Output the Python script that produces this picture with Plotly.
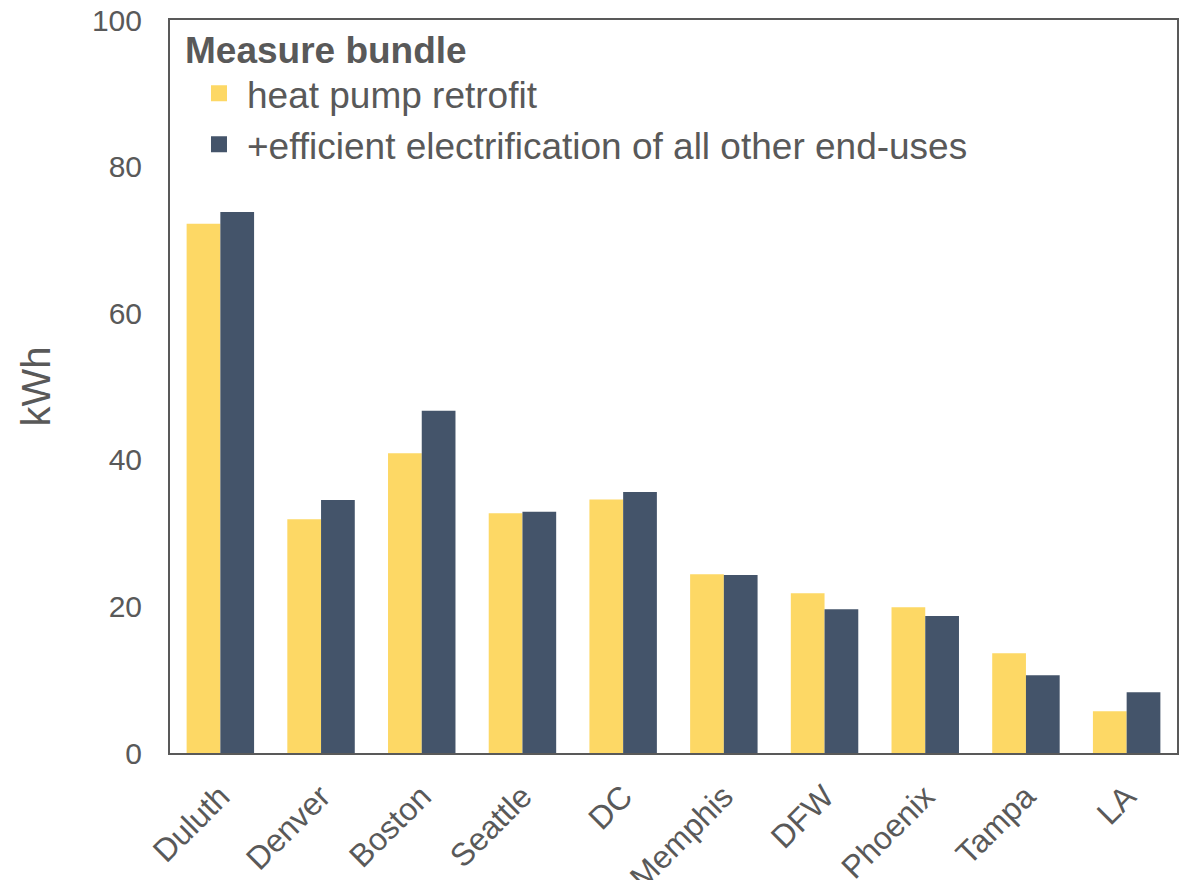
import plotly.graph_objects as go

cities = ["Duluth", "Denver", "Boston", "Seattle", "DC", "Memphis", "DFW", "Phoenix", "Tampa", "LA"]
heat_pump = [72.2, 31.9, 40.9, 32.7, 34.6, 24.4, 21.8, 19.9, 13.6, 5.7]
all_electric = [73.8, 34.5, 46.7, 32.9, 35.6, 24.3, 19.6, 18.7, 10.6, 8.3]
series_names = ["heat pump retrofit", "+efficient electrification of all other end-uses"]
y_ticks = [0, 20, 40, 60, 80, 100]
colors = ["#FDD865", "#44546A"]

FONT = "Liberation Sans, Arial, sans-serif"
GREY = "#595959"

fig = go.Figure()
for vals, name, col in zip([heat_pump, all_electric], series_names, colors):
    fig.add_trace(go.Bar(x=cities, y=vals, name=name, showlegend=False,
                         marker=dict(color=col, line=dict(width=0))))
# legend entries with larger square symbols
for name, col in zip(series_names, colors):
    fig.add_trace(go.Scatter(x=[None], y=[None], mode="markers", name=name,
                             marker=dict(symbol="square", size=18, color=col)))

fig.update_layout(
    width=1189, height=880,
    margin=dict(l=162, r=20, t=12, b=135, autoexpand=False),
    paper_bgcolor="white", plot_bgcolor="white",
    barmode="group", bargap=0.33, bargroupgap=0,
    font=dict(family=FONT, color=GREY, size=30),
    legend=dict(
        title=dict(text="<b>Measure bundle</b>", font=dict(size=37, color=GREY)),
        x=0.0129, y=1.0075, xanchor="left", yanchor="top",
        bgcolor="rgba(0,0,0,0)", font=dict(size=37, color=GREY),
        itemsizing="trace", itemwidth=46, tracegroupgap=0, indentation=8,
    ),
    xaxis=dict(
        showline=True, linecolor=GREY, linewidth=2, mirror=True, automargin=False,
        tickangle=-45, tickfont=dict(size=32, color=GREY), ticklabelstandoff=10,
        ticks="", showgrid=False, ticklabeloverflow="allow",
    ),
    yaxis=dict(
        range=[0, 100], tickvals=y_ticks, showline=True, linecolor=GREY, linewidth=2, mirror=True,
        showgrid=False, zeroline=False, ticks="", ticklabelstandoff=20, automargin=False,
        tickfont=dict(size=30, color=GREY), ticklabeloverflow="allow",
        title=dict(text="kWh", font=dict(size=40, color=GREY), standoff=29),
    ),
)

fig.write_html("out.html")
